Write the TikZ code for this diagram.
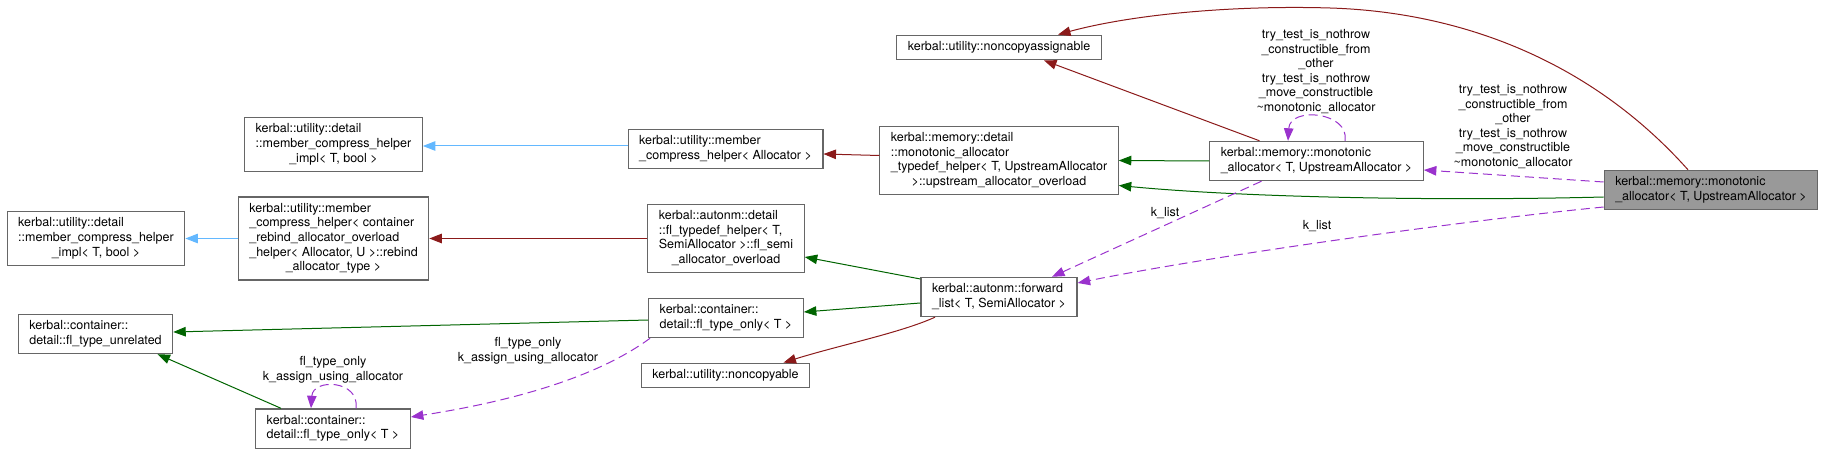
\documentclass[tikz,border=0pt]{standalone}
\usepackage{fontspec}
\setmainfont{TeX Gyre Heros}
\usetikzlibrary{arrows.meta}
\usetikzlibrary{calc}

\definecolor{inhpub}{HTML}{006400}
\definecolor{inhprot}{HTML}{8B1A1A}
\definecolor{inhpriv}{HTML}{63B8FF}
\definecolor{usage}{HTML}{9A32CD}
\definecolor{boxline}{HTML}{666666}
\definecolor{boxfill}{HTML}{999999}

\newcommand{\cls}[1]{\begin{tabular}{@{}l@{}}#1\end{tabular}}
\newcommand{\lastc}[1]{\multicolumn{1}{@{}c@{}}{#1}}

\begin{document}
\begin{tikzpicture}[x=1pt, y=-1pt,
    every node/.style={font=\fontsize{12.5}{14.6}\selectfont},
    classbox/.style={rectangle, draw=boxline, fill=white, line width=1.2pt, inner xsep=11pt, inner ysep=5pt},
    edgelabel/.style={align=center, inner sep=0pt},
    pub/.style={draw=inhpub, line width=1pt, -{Triangle[length=12.5pt, width=9.5pt]}},
    prot/.style={draw=inhprot, line width=1pt, -{Triangle[length=12.5pt, width=9.5pt]}},
    priv/.style={draw=inhpriv, line width=1pt, -{Triangle[length=12.5pt, width=9.5pt]}},
    uses/.style={draw=usage, line width=1pt, dash pattern=on 9pt off 5pt, -{Triangle[length=12.5pt, width=9.5pt]}}]

        \useasboundingbox (0,0) rectangle (1828,454);

        % classes, column by column
        \node[classbox] (implB) at (96,238.5) {\cls{kerbal::utility::detail\\::member\_compress\_helper\\\lastc{\_impl< T, bool >}}};
        \node[classbox] (flun) at (95.5,334) {\cls{kerbal::container::\\detail::fl\_type\_unrelated}};

        \node[classbox] (implA) at (333.5,144.5) {\cls{kerbal::utility::detail\\::member\_compress\_helper\\\lastc{\_impl< T, bool >}}};
        \node[classbox] (mchB) at (333.5,238.5) {\cls{kerbal::utility::member\\\_compress\_helper< container\\\_rebind\_allocator\_overload\\\_helper< Allocator, U >::rebind\\\lastc{\_allocator\_type >}}};
        \node[classbox] (flonB) at (333,428.5) {\cls{kerbal::container::\\detail::fl\_type\_only< T >}};

        \node[classbox] (mchA) at (725.5,149) {\cls{kerbal::utility::member\\\_compress\_helper< Allocator >}};
        \node[classbox] (fltdh) at (726,238.5) {\cls{kerbal::autonm::detail\\::fl\_typedef\_helper< T,\\SemiAllocator >::fl\_semi\\\lastc{\_allocator\_overload}}};
        \node[classbox] (flonA) at (726,318) {\cls{kerbal::container::\\detail::fl\_type\_only< T >}};
        \node[classbox] (nc) at (725.5,375.5) {\cls{kerbal::utility::noncopyable}};

        \node[classbox] (nca) at (999,47.5) {\cls{kerbal::utility::noncopyassignable}};
        \node[classbox] (mtdh) at (999,160.5) {\cls{kerbal::memory::detail\\::monotonic\_allocator\\\_typedef\_helper< T, UpstreamAllocator\\\lastc{>::upstream\_allocator\_overload}}};
        \node[classbox] (fwd) at (999,297) {\cls{kerbal::autonm::forward\\\_list< T, SemiAllocator >}};

        \node[classbox] (mono) at (1316.5,161) {\cls{kerbal::memory::monotonic\\\_allocator< T, UpstreamAllocator >}};
        \node[classbox, fill=boxfill] (monoG) at (1711,190) {\cls{kerbal::memory::monotonic\\\_allocator< T, UpstreamAllocator >}};

        % member names on the usage edges
        \node[edgelabel] (lself) at (1316,71.5) {try\_test\_is\_nothrow\\\_constructible\_from\\\_other\\try\_test\_is\_nothrow\\\_move\_constructible\\\textasciitilde monotonic\_allocator};
        \node[edgelabel] (lmono) at (1513,126.5) {try\_test\_is\_nothrow\\\_constructible\_from\\\_other\\try\_test\_is\_nothrow\\\_move\_constructible\\\textasciitilde monotonic\_allocator};
        \node[edgelabel] (lklistA) at (1165,213) {k\_list};
        \node[edgelabel] (lklistB) at (1317,226) {k\_list};
        \node[edgelabel] (lflself) at (333,369.5) {fl\_type\_only\\k\_assign\_using\_allocator};
        \node[edgelabel] (lfl) at (528,350.5) {fl\_type\_only\\k\_assign\_using\_allocator};

        \draw[prot] ([xshift=-23pt]monoG.north) .. controls (1590,60) and (1460,12) .. (1330,8)
            .. controls (1230,5) and (1130,15) .. ([xshift=59pt]nca.north);
        \draw[prot] ([xshift=-57pt]mono.north) -- ([xshift=45pt]nca.south);
        \draw[pub] (mono.west) -- (mtdh.east);
        \draw[pub] ([yshift=-7pt]monoG.west) .. controls (1450,201) and (1250,198) .. ([yshift=-25pt]mtdh.east);
        \draw[uses] ([yshift=8pt]monoG.west) -- ([yshift=-9pt]mono.east);
        \draw[uses] ([xshift=28.5pt]mono.north) .. controls (1350,112) and (1290,106) .. ([xshift=-28.5pt]mono.north);
        \draw[uses] ([xshift=-55pt]mono.south) -- ([xshift=53pt]fwd.north);
        \draw[uses] ([yshift=-17pt]monoG.west) .. controls (1450,222) and (1200,258) .. ([yshift=14pt]fwd.east);

        \draw[prot] ([yshift=5pt]mtdh.west) -- ([yshift=-5pt]mchA.east);
        \draw[priv] ([yshift=3pt]mchA.west) -- ([yshift=-1.5pt]implA.east);

        \draw[pub] ([yshift=18pt]fwd.west) -- ([yshift=-18.5pt]fltdh.east);
        \draw[pub] ([yshift=-6pt]fwd.west) -- ([yshift=6pt]flonA.east);
        \draw[prot] ([xshift=-64pt]fwd.south) .. controls (900,333) and (840,345) .. ([xshift=58pt]nc.north);

        \draw[prot] (fltdh.west) -- (mchB.east);
        \draw[priv] (mchB.west) -- (implB.east);

        \draw[pub] ([yshift=-2pt]flonA.west) -- ([yshift=2pt]flun.east);
        \draw[uses] ([xshift=2pt]flonA.south west) .. controls (600,375) and (520,400) .. ([yshift=11.5pt]flonB.east);
        \draw[pub] ([xshift=-52pt]flonB.north) -- ([xshift=62pt]flun.south);
        \draw[uses] ([xshift=23pt]flonB.north) .. controls (360,380) and (313,378) .. ([xshift=-22pt]flonB.north);

\end{tikzpicture}
\end{document}
